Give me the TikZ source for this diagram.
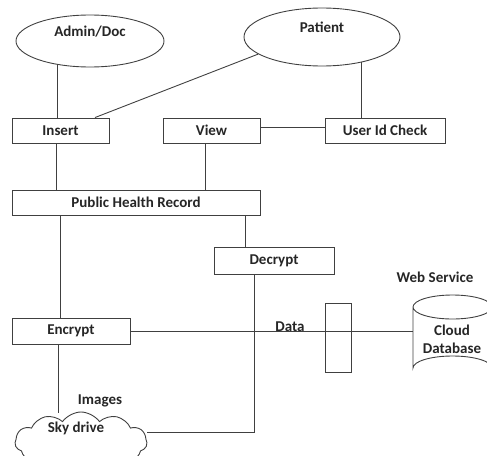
\documentclass[tikz,border=0pt]{standalone}
\usepackage{fontspec}
\setmainfont{Carlito}
\usetikzlibrary{shapes.geometric,shapes.symbols}
\begin{document}
\begin{tikzpicture}[x=1pt,y=-1pt,
  every node/.style={font=\fontsize{15}{17}\selectfont\bfseries, text=black!85},
  line/.style={draw=black!75, line width=0.9pt},
  box/.style={line, rectangle, inner sep=0pt},
  actor/.style={line, ellipse, inner sep=0pt},
  lbl/.style={inner sep=0pt}]
\useasboundingbox (0,0) rectangle (487,455);
\clip (0,0) rectangle (487,455);

% actors
\node[actor, minimum width=148, minimum height=52] (admin) at (90,41) {};
\node[lbl] at (90,32) {Admin/Doc};
\node[actor, minimum width=156, minimum height=58] (patient) at (322,37) {};
\node[lbl] at (322,27) {Patient};

% process boxes
\node[box, minimum width=97, minimum height=25] (ins) at (60.5,130.5) {Insert};
\node[box, minimum width=97, minimum height=25] (view) at (211.5,130.5) {View};
\node[box, minimum width=120, minimum height=25] (uid) at (385,130.5) {User Id Check};
\node[box, minimum width=248, minimum height=25] (phr) at (136,202.5) {Public Health Record};
\node[box, minimum width=120, minimum height=27] (dec) at (274,260.5) {Decrypt};
\node[box, minimum width=118, minimum height=26] (enc) at (71,331) {Encrypt};
\node[box, minimum width=26, minimum height=69] (gate) at (338,337.5) {};

% storage
\node[line, cloud, cloud puffs=11, cloud puff arc=110, aspect=2.4,
      minimum width=132, minimum height=60, inner sep=0pt] (sky) at (81,442) {};
\node[lbl] at (76,428) {Sky drive};
\coordinate (dbw) at (413,331);
\draw[line] (413,307) -- (413,368) arc[start angle=180, end angle=360, x radius=39.5, y radius=12]
  -- (492,307) arc[start angle=0, end angle=360, x radius=39.5, y radius=12];
\node[lbl] at (452,330) {Cloud};
\node[lbl] at (452,348) {Database};

% labels
\node[lbl] at (435,277) {Web Service};
\node[lbl] at (100,401) {Images};
\node[lbl] at (290,327) {Data};

% connectors
\draw[line] (admin.216) -- (admin.216 |- ins.north);
\draw[line] (patient.195) -- ([xshift=34.5]ins.north);
\draw[line] (patient.327) -- (patient.327 |- uid.north);
\draw[line] ([yshift=3]view.east) -- ([yshift=3]view.east -| uid.west);
\draw[line] ([xshift=-4.5]ins.south) -- ([xshift=-4.5]ins.south |- phr.north);
\draw[line] ([xshift=-6.5]view.south) -- ([xshift=-6.5]view.south |- phr.north);
\draw[line] ([xshift=-11]enc.north) -- ([xshift=-11]enc.north |- phr.south);
\draw[line] ([xshift=-29]dec.north) -- ([xshift=-29]dec.north |- phr.south);
\draw[line] (enc.east) -- (dbw);
\draw[line] ([xshift=-20]dec.south) |- ([yshift=10]sky.east);
\draw[line] ([xshift=-13]enc.south) -- ([xshift=-13,yshift=-1]enc.south |- sky.north);
\end{tikzpicture}
\end{document}
